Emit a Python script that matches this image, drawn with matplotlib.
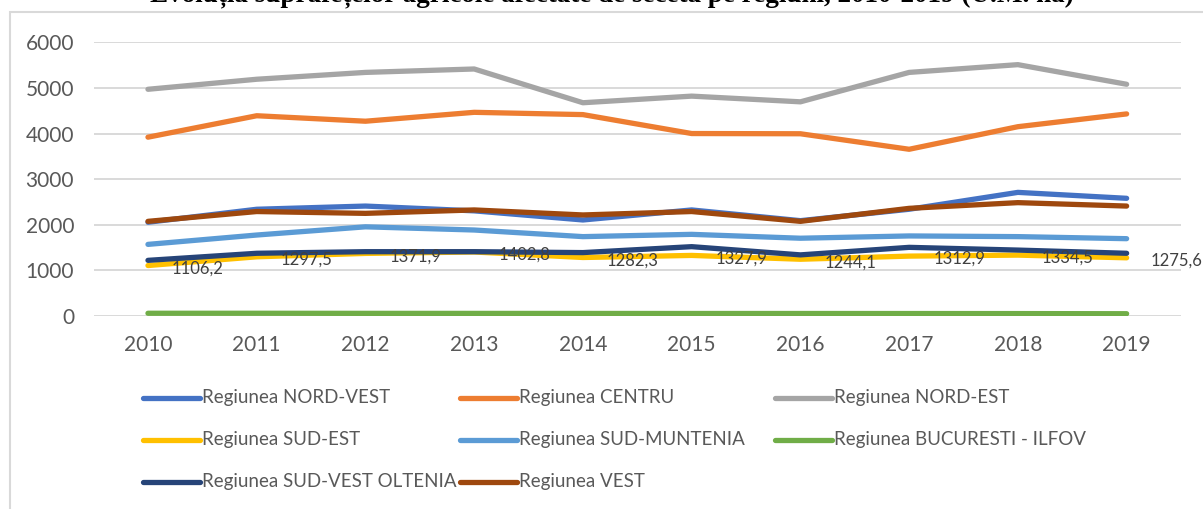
import numpy as np
import matplotlib
matplotlib.use("Agg")
import matplotlib.pyplot as plt
from matplotlib.lines import Line2D
from matplotlib.patches import Rectangle

years = ["2010", "2011", "2012", "2013", "2014", "2015", "2016", "2017", "2018", "2019"]

nord_vest = [2055, 2340, 2410, 2305, 2105, 2325, 2090, 2340, 2710, 2580]
centru = [3920, 4390, 4270, 4465, 4415, 4000, 3995, 3655, 4150, 4430]
nord_est = [4970, 5190, 5340, 5415, 4675, 4820, 4695, 5340, 5510, 5080]
sud_est = [1106.2, 1297.5, 1371.9, 1402.8, 1282.3, 1327.9, 1244.1, 1312.9, 1334.5, 1275.6]
sud_muntenia = [1570, 1775, 1955, 1885, 1740, 1790, 1705, 1755, 1740, 1695]
bucuresti_ilfov = [60, 60, 58, 57, 56, 55, 55, 54, 53, 50]
sud_vest_oltenia = [1220, 1375, 1410, 1410, 1390, 1520, 1340, 1505, 1445, 1375]
vest = [2075, 2290, 2250, 2325, 2215, 2290, 2075, 2360, 2485, 2410]

names = ["Regiunea NORD-VEST", "Regiunea CENTRU", "Regiunea NORD-EST",
         "Regiunea SUD-EST", "Regiunea SUD-MUNTENIA", "Regiunea BUCURESTI - ILFOV",
         "Regiunea SUD-VEST OLTENIA", "Regiunea VEST"]
series = [nord_vest, centru, nord_est, sud_est, sud_muntenia, bucuresti_ilfov,
          sud_vest_oltenia, vest]
colors = ["#4472C4", "#ED7D31", "#A5A5A5", "#FFC000", "#5B9BD5", "#70AD47",
          "#264478", "#9E480E"]

plt.rcParams["font.family"] = ["Lato", "DejaVu Sans"]

W, H = 1203, 509
fig = plt.figure(figsize=(W / 100, H / 100), dpi=100)

# chart frame (runs off the right and bottom edges)
fig.patches.append(Rectangle((10 / W, -0.2), 1.2, 1 - 12 / H + 0.2,
                             transform=fig.transFigure, fill=False,
                             ec="#D9D9D9", lw=1.5))

# title, mostly above the visible area
fig.text(612 / W, 1 - 1.5 / H,
         "Evoluția suprafețelor agricole afectate de secetă pe regiuni, 2010-2019 (U.M. ha)",
         ha="center", va="baseline", fontsize=19.5, fontweight="bold",
         family="Liberation Serif", color="black")

ax = fig.add_axes([93.6 / W, 1 - 316 / H, (1181 - 93.6) / W, (316 - 42.3) / H])
x = np.arange(len(years))

for vals, name, c in zip(series, names, colors):
    ax.plot(x, vals, color=c, lw=3.8, solid_capstyle="round",
            solid_joinstyle="round", label=name)

for xi, v in zip(x, sud_est):
    ax.annotate(f"{v:.1f}".replace(".", ","), (xi, v),
                xytext=(24, -3), textcoords="offset pixels",
                ha="left", va="center", fontsize=12, color="#404040",
                annotation_clip=False)

ax.set_xlim(-0.5, 9.5)
ax.set_ylim(0, 6000)
ax.set_xticks(x, years)
ax.set_yticks(np.arange(0, 6001, 1000))
ax.yaxis.grid(True, color="#D9D9D9", lw=1.4)
ax.set_axisbelow(True)
for s in ax.spines.values():
    s.set_visible(False)
ax.tick_params(axis="both", length=0, labelsize=15, colors="#595959")
ax.tick_params(axis="y", pad=14)
ax.tick_params(axis="x", pad=14)

# legend laid out in rows of three
col_x = [143, 460, 775]
row_y = [398, 440, 482]
for i, (name, c) in enumerate(zip(names, colors)):
    cx = col_x[i % 3]
    ry = row_y[i // 3]
    fig.add_artist(Line2D([cx / W, (cx + 57) / W], [1 - ry / H, 1 - ry / H],
                          transform=fig.transFigure, color=c, lw=3.8,
                          solid_capstyle="round"))
    fig.text((cx + 59) / W, 1 - ry / H, name, ha="left", va="center",
             fontsize=13.5, color="#595959")

fig.savefig("out.png", dpi=100, facecolor="white")
